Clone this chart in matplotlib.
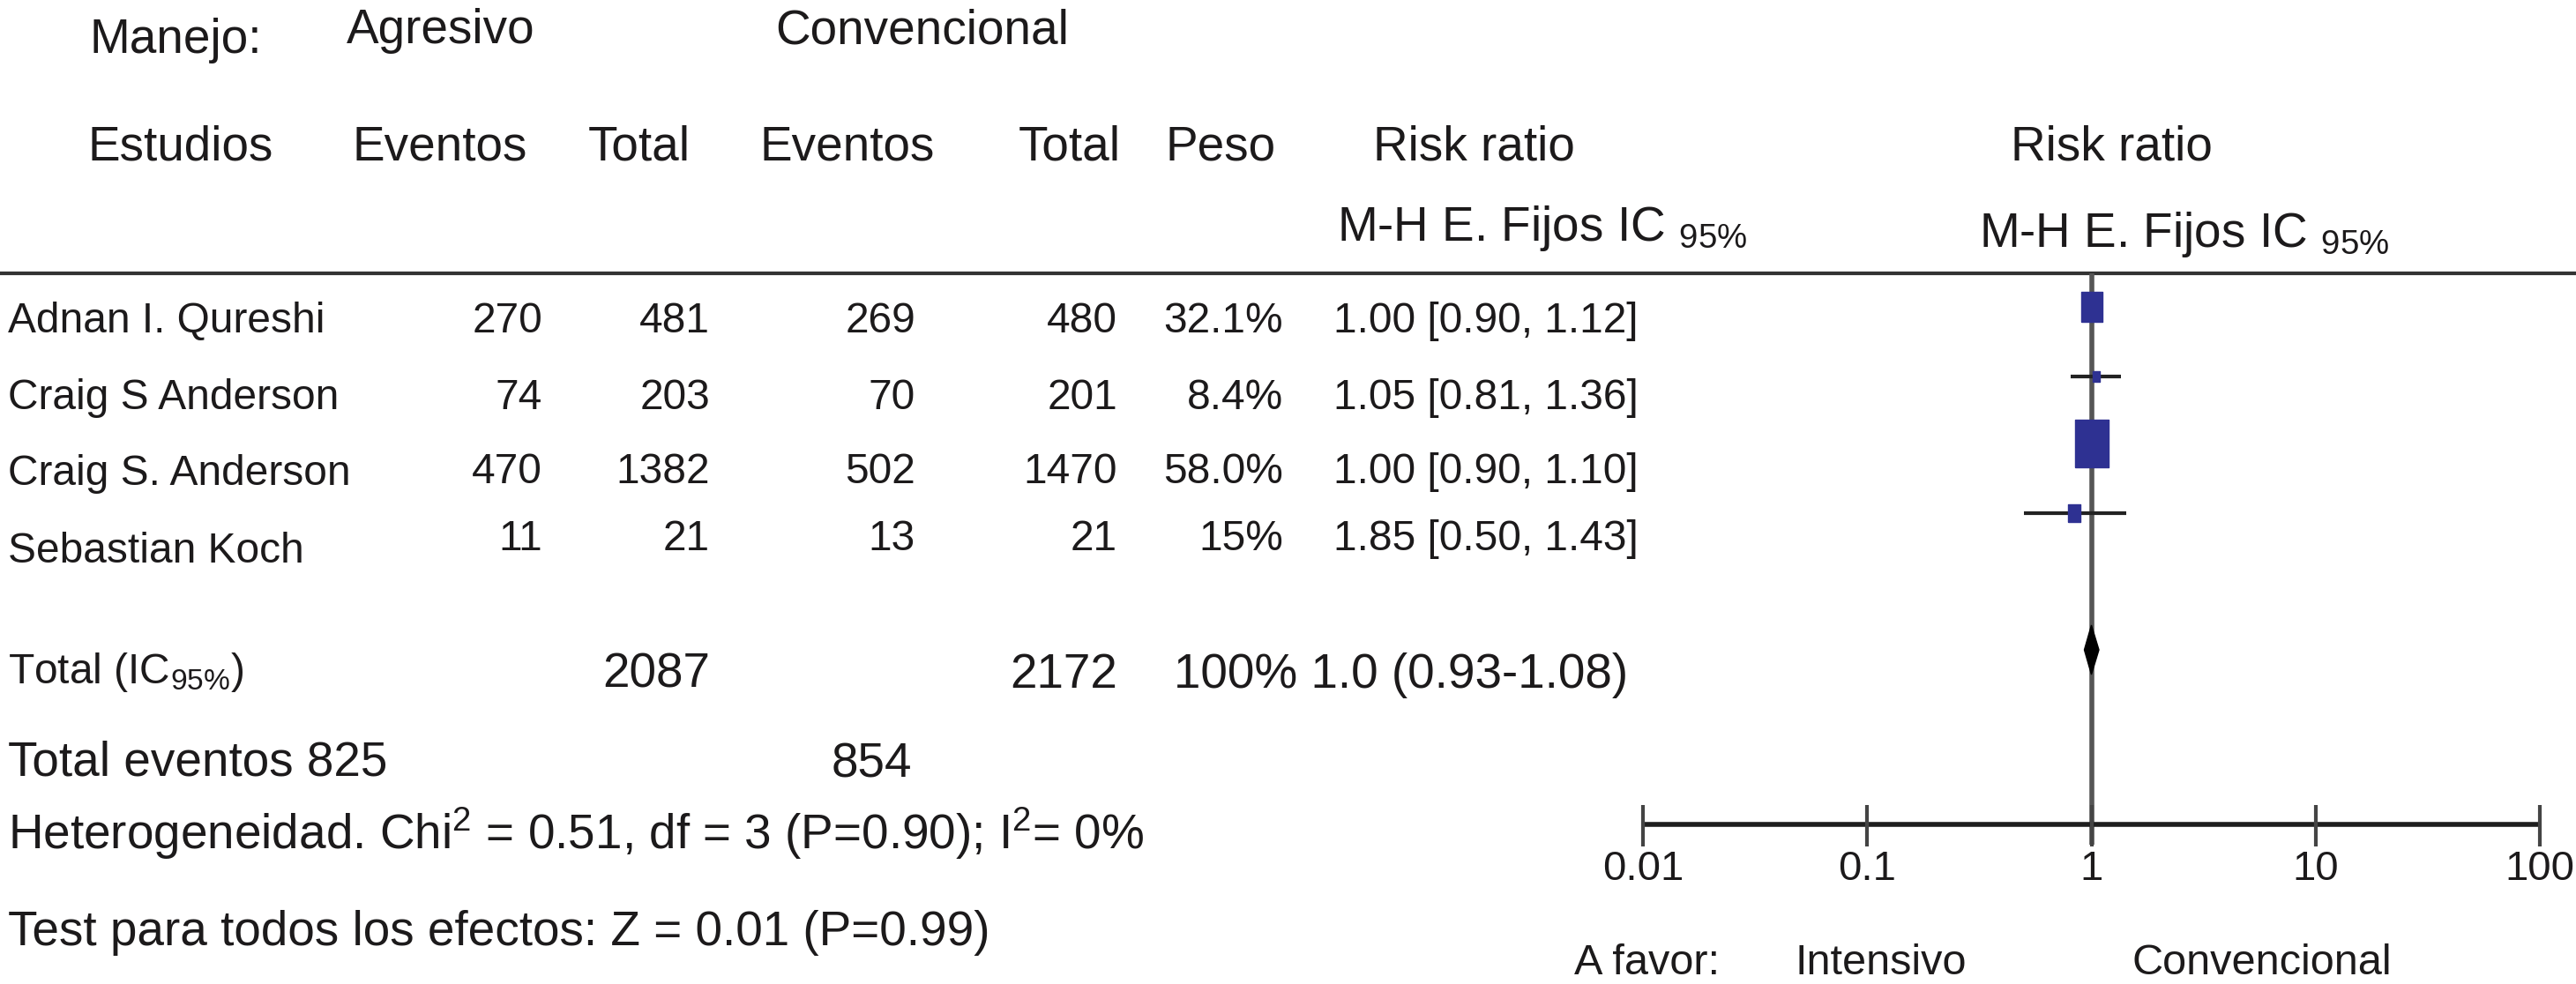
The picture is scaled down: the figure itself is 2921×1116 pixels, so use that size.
import matplotlib
matplotlib.use('Agg')
import matplotlib.pyplot as plt

plt.rcParams['font.family'] = ['Liberation Sans', 'DejaVu Sans']
plt.rcParams['mathtext.fontset'] = 'custom'
plt.rcParams['mathtext.rm'] = 'Liberation Sans'
plt.rcParams['mathtext.it'] = 'Liberation Sans:italic'
plt.rcParams['mathtext.bf'] = 'Liberation Sans:bold'

# ---- data ----
studies = ['Adnan I. Qureshi', 'Craig S Anderson', 'Craig S. Anderson', 'Sebastian Koch']
agr_events = [270, 74, 470, 11]
agr_total = [481, 203, 1382, 21]
conv_events = [269, 70, 502, 13]
conv_total = [480, 201, 1470, 21]
weight = [32.1, 8.4, 58.0, 15]
weight_lbl = ['32.1%', '8.4%', '58.0%', '15%']
rr_lbl = ['1.00 [0.90, 1.12]', '1.05 [0.81, 1.36]', '1.00 [0.90, 1.10]', '1.85 [0.50, 1.43]']

# point estimates / intervals as they are drawn in the plot
rr_est = [1.00, 1.05, 1.00, 0.84]
rr_lo = [0.90, 0.81, 0.90, 0.50]
rr_hi = [1.12, 1.36, 1.10, 1.43]

total_agr = 2087
total_conv = 2172
events_agr = 825
events_conv = 854
pooled_est, pooled_lo, pooled_hi = 1.0, 0.93, 1.08
pooled_lbl = '100% 1.0 (0.93-1.08)'

tick_vals = [0.01, 0.1, 1, 10, 100]
tick_lbls = ['0.01', '0.1', '1', '10', '100']

# ---- layout (pixel coordinates, y downwards) ----
W, H = 2921, 1116
ink = '#1c1a1b'
blue = '#2e3192'
big = 39.5
small = 34.5

name_base = [377, 464, 550, 638]
num_base = [377, 464, 548, 624]
mark_y = [348, 427, 503, 582]
diamond_y = 737

fig = plt.figure(figsize=(W / 100, H / 100), dpi=100)
ax = fig.add_axes([0, 0, 1, 1])
ax.set_xlim(0, W)
ax.set_ylim(H, 0)
ax.axis('off')


def put(x, y, s, size, ha='left'):
    ax.text(x, y, s, fontsize=size, ha=ha, va='baseline', color=ink)


# header
put(102, 60, 'Manejo:', big)
put(393, 49, 'Agresivo', big)
put(879, 50, 'Convencional', big)
for x, s in [(99, 'Estudios'), (400, 'Eventos'), (667, 'Total'), (861, 'Eventos'),
             (1155, 'Total'), (1321, 'Peso'), (1557, 'Risk ratio'), (2280, 'Risk ratio')]:
    put(x, 182, s, big)
put(1516, 273, r'M-H E. Fijos IC $_{95\%}$', big)
put(2244, 280, r'M-H E. Fijos IC $_{95\%}$', big)

ax.hlines(310, 0, W, color='#333333', lw=3)

# study rows
for i in range(len(studies)):
    put(9, name_base[i], studies[i], small)
    yb = num_base[i]
    put(615, yb, str(agr_events[i]), small, 'right')
    put(805, yb, str(agr_total[i]), small, 'right')
    put(1038, yb, str(conv_events[i]), small, 'right')
    put(1267, yb, str(conv_total[i]), small, 'right')
    put(1455, yb, weight_lbl[i], small, 'right')
    put(1512, yb, rr_lbl[i], small)

# totals
put(9, 775, r'Total (IC$_{95\%}$)', small)
put(805, 780, str(total_agr), big, 'right')
put(1267, 780, str(total_conv), big, 'right')
put(1331, 780, pooled_lbl, big)
put(9, 880, 'Total eventos %d' % events_agr, big)
put(1034, 882, str(events_conv), big, 'right')
put(9, 963, r'Heterogeneidad. Chi$^{2}$ = 0.51, df = 3 (P=0.90); I$^{2}$= 0%', big)
put(9, 1072, 'Test para todos los efectos: Z = 0.01 (P=0.99)', big)

put(1785, 1105, 'A favor:', 35)
put(2036, 1105, 'Intensivo', 35)
put(2418, 1105, 'Convencional', 35)

# ---- forest plot on a log axis ----
fx = fig.add_axes([1863 / W, 0, (2880 - 1863) / W, 1])
fx.set_xscale('log')
fx.set_xlim(0.01, 100)
fx.set_ylim(H, 0)
fx.axis('off')

fx.vlines(1, 310, 958, color='#555555', lw=4, clip_on=False, zorder=1)
fx.hlines(935, 0.01, 100, color='#1e1e1e', lw=4, clip_on=False)
fx.vlines(tick_vals, 913, 960, color='#444444', lw=3, clip_on=False)
for v, s in zip(tick_vals, tick_lbls):
    fx.text(v, 998, s, fontsize=34, ha='center', va='baseline', color=ink)

box = [(-0.7, -1), (0.7, -1), (0.7, 1), (-0.7, 1), (-0.7, -1)]
fx.hlines(mark_y, rr_lo, rr_hi, color='#222222', lw=3, zorder=2)
for i in range(len(studies)):
    wpx = 38 * (weight[i] / 58.0) ** 0.75
    ms = 1.4 * wpx * 72 / 100
    fx.plot(rr_est[i], mark_y[i], marker=box, markersize=ms, color=blue,
            mec=blue, ls='none', zorder=3)

fx.fill([pooled_lo, pooled_est, pooled_hi, pooled_est],
        [diamond_y, diamond_y - 28, diamond_y, diamond_y + 28],
        color='black', zorder=3)

fig.savefig('out.png', dpi=100)
